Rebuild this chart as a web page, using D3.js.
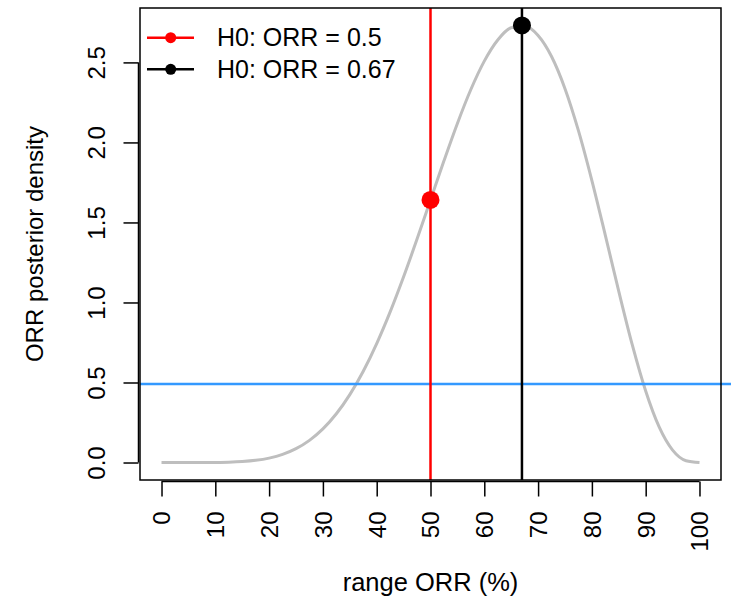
<!DOCTYPE html>
<html lang="en">
<head>
    <meta charset="UTF-8">
    <title>ORR posterior density</title>
    <script src="https://d3js.org/d3.v7.min.js"></script>
    <style>
        html, body { margin: 0; padding: 0; background: #ffffff; }
        svg { display: block; font-family: 'Liberation Sans', Arial, sans-serif; }
        text { fill: #000; }
    </style>
</head>
<body>
    <div id="chart"></div>
    <script>
        // values
        const orrGrid = [0, 2.5, 5, 7.5, 10, 12.5, 15, 17.5, 20, 22.5, 25, 27.5, 30, 32.5, 35, 37.5, 40, 42.5, 45, 47.5,
                         50, 52.5, 55, 57.5, 60, 62.5, 65, 67.5, 70, 72.5, 75, 77.5, 80, 82.5, 85, 87.5, 90, 92.5, 95, 97.5, 100];
        const density = [0, 0, 0, 0.0001, 0.0006, 0.0021, 0.0059, 0.0135, 0.0275, 0.0507, 0.0865, 0.1385, 0.2100, 0.3044,
                         0.4241, 0.5703, 0.7432, 0.9411, 1.1605, 1.3961, 1.6406, 1.8850, 2.1188, 2.3306, 2.5082, 2.6403,
                         2.7162, 2.7274, 2.6683, 2.5370, 2.3360, 2.0733, 1.7616, 1.4195, 1.0692, 0.7363, 0.4464, 0.2220,
                         0.0772, 0.0113, 0];
        const xTicks = [0, 10, 20, 30, 40, 50, 60, 70, 80, 90, 100];
        const yTicks = [0, 0.5, 1, 1.5, 2, 2.5];
        const h0Values = [50, 67];
        const h0Density = [1.6406, 2.7307];
        const h0Colors = ['#ff0000', '#000000'];
        const legendLabels = ['H0: ORR = 0.5', 'H0: ORR = 0.67'];
        const refLevel = 0.49;

        const W = 738, H = 602;
        const box = { left: 140, right: 721, top: 8, bottom: 480 };
        const fs = 24;

        const svg = d3.select('#chart').append('svg').attr('width', W).attr('height', H);

        const x = d3.scaleLinear().domain([-4, 104]).range([box.left, box.right]);
        const ymax = d3.max(h0Density);
        const y = d3.scaleLinear().domain([-0.04 * ymax, 1.04 * ymax]).range([box.bottom, box.top]);

        const pts = orrGrid.map((v, i) => [v, density[i]]);

        // curve
        svg.append('path')
            .datum(pts)
            .attr('fill', 'none')
            .attr('stroke', '#bebebe')
            .attr('stroke-width', 3)
            .attr('d', d3.line().x(d => x(d[0])).y(d => y(d[1])).curve(d3.curveMonotoneX));

        // reference horizontal line
        svg.append('line')
            .attr('x1', box.left).attr('x2', W - 7)
            .attr('y1', y(refLevel)).attr('y2', y(refLevel))
            .attr('stroke', '#3399ff').attr('stroke-width', 2.5);

        // H0 vertical lines and points
        h0Values.forEach((v, i) => {
            svg.append('line')
                .attr('x1', x(v)).attr('x2', x(v))
                .attr('y1', box.top).attr('y2', box.bottom)
                .attr('stroke', h0Colors[i]).attr('stroke-width', 2.5);
            svg.append('circle')
                .attr('cx', x(v)).attr('cy', y(h0Density[i]))
                .attr('r', 9).attr('fill', h0Colors[i]);
        });

        // box
        svg.append('rect')
            .attr('x', box.left).attr('y', box.top)
            .attr('width', box.right - box.left).attr('height', box.bottom - box.top)
            .attr('fill', 'none').attr('stroke', '#000').attr('stroke-width', 1.5);

        // x axis
        const xAxis = svg.append('g').attr('transform', `translate(0,${box.bottom + 1.5})`)
            .call(d3.axisBottom(x).tickValues(xTicks).tickSize(15).tickSizeOuter(0).tickFormat(d3.format('d')));
        xAxis.select('.domain').attr('d', `M${x(0)},0H${x(100)}`).attr('stroke-width', 1.5);
        xAxis.selectAll('.tick line').attr('stroke-width', 1.5);
        xAxis.selectAll('.tick text')
            .attr('font-size', fs).attr('font-family', null).attr('fill', '#000')
            .attr('transform', 'rotate(-90)')
            .attr('text-anchor', 'end')
            .attr('x', -30).attr('y', 0).attr('dy', '0.35em');

        // y axis
        const yAxis = svg.append('g').attr('transform', `translate(${box.left - 1.5},0)`)
            .call(d3.axisLeft(y).tickValues(yTicks).tickSize(15).tickSizeOuter(0).tickFormat(d3.format('.1f')));
        yAxis.select('.domain').attr('d', `M0,${y(0)}V${y(2.5)}`).attr('stroke-width', 1.5);
        yAxis.selectAll('.tick line').attr('stroke-width', 1.5);
        yAxis.selectAll('.tick text')
            .attr('font-size', fs).attr('font-family', null).attr('fill', '#000')
            .attr('transform', 'rotate(-90)')
            .attr('text-anchor', 'middle')
            .attr('x', 0).attr('y', -34).attr('dy', 0);

        // axis titles
        svg.append('text')
            .attr('x', x(50)).attr('y', 591)
            .attr('text-anchor', 'middle').attr('font-size', 25.5)
            .text('range ORR (%)');
        svg.append('text')
            .attr('transform', `translate(43,${(box.top + box.bottom) / 2}) rotate(-90)`)
            .attr('text-anchor', 'middle').attr('font-size', fs)
            .text('ORR posterior density');

        // legend
        const leg = svg.append('g');
        legendLabels.forEach((lab, i) => {
            const cy = 37.7 + i * 31.6;
            leg.append('line').attr('x1', 147).attr('x2', 194).attr('y1', cy).attr('y2', cy)
                .attr('stroke', h0Colors[i]).attr('stroke-width', 2.5);
            leg.append('circle').attr('cx', 170.7).attr('cy', cy).attr('r', 5.5).attr('fill', h0Colors[i]);
            leg.append('text').attr('x', 217).attr('y', cy).attr('dy', '0.35em')
                .attr('font-size', 25).text(lab);
        });
    </script>
</body>
</html>
